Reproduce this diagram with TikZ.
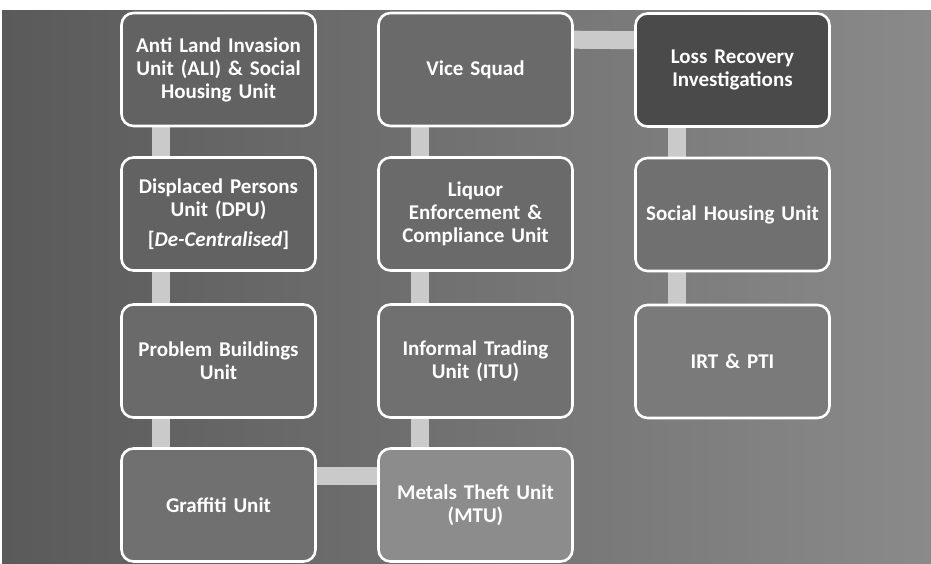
\documentclass[tikz,border=0pt]{standalone}
\usepackage{fontspec}
\setmainfont{Carlito}
\usetikzlibrary{calc}
\pgfdeclarelayer{bg}
\pgfdeclarelayer{links}
\pgfsetlayers{bg,links,main}
\definecolor{bgleft}{RGB}{90,90,90}
\definecolor{bgright}{RGB}{138,138,138}
\definecolor{linkgray}{RGB}{202,202,202}
\definecolor{boxA}{RGB}{98,98,98}
\definecolor{boxB}{RGB}{106,106,106}
\definecolor{boxC}{RGB}{112,112,112}
\definecolor{boxD}{RGB}{74,74,74}
\definecolor{boxE}{RGB}{122,122,122}
\definecolor{boxF}{RGB}{140,140,140}
\tikzset{
  unit/.style={draw=white, line width=2.6pt, rounded corners=12pt,
    minimum width=194pt, minimum height=113pt, text width=186pt,
    align=center, text=white, inner sep=0pt,
    font=\fontsize{21}{23}\selectfont\bfseries},
  link/.style={draw=linkgray, line width=18pt},
}
\begin{document}
\begin{tikzpicture}[x=1pt,y=-1pt]
\useasboundingbox (0,0) rectangle (931,563);
% column 1
\node[unit, fill=boxA] (ali) at (218.5,69.5) {Anti Land Invasion\\Unit (ALI) \& Social\\Housing Unit};
\node[unit, fill=boxA] (dpu) at (218.5,214) {Displaced Persons\\Unit (DPU)\\[7pt][\textit{De-Centralised}]};
\node[unit, fill=boxB] (pbu) at (218.5,361) {Problem Buildings\\Unit};
\node[unit, fill=boxC] (gra) at (218.5,505) {Graffiti Unit};
% column 2
\node[unit, fill=boxB] (vice) at (475.5,69.5) {Vice Squad};
\node[unit, fill=boxB] (liq) at (475.5,214) {Liquor\\Enforcement \&\\Compliance Unit};
\node[unit, fill=boxC] (itu) at (475.5,361) {Informal Trading\\Unit (ITU)};
\node[unit, fill=boxF] (mtu) at (475.5,505) {Metals Theft Unit\\(MTU)};
% column 3
\node[unit, fill=boxD] (loss) at (732.5,70) {Loss Recovery\\Investigations};
\node[unit, fill=boxC] (soc) at (732.5,214.5) {Social Housing Unit};
\node[unit, fill=boxE] (irt) at (732.5,361.5) {IRT \& PTI};

\begin{pgfonlayer}{bg}
  \fill[white] (0,0) rectangle (931,563);
  \shade[left color=bgleft, right color=bgright] (2,10) rectangle (931,563);
\end{pgfonlayer}
\begin{pgfonlayer}{links}
  \draw[link] ($(ali.south west)+(41,0)$) -- ($(dpu.north west)+(41,0)$);
  \draw[link] ($(dpu.south west)+(41,0)$) -- ($(pbu.north west)+(41,0)$);
  \draw[link] ($(pbu.south west)+(41,0)$) -- ($(gra.north west)+(41,0)$);
  \draw[link] ($(vice.south west)+(43,0)$) -- ($(liq.north west)+(43,0)$);
  \draw[link] ($(liq.south west)+(43,0)$) -- ($(itu.north west)+(43,0)$);
  \draw[link] ($(itu.south west)+(43,0)$) -- ($(mtu.north west)+(43,0)$);
  \draw[link] ($(loss.south west)+(43,0)$) -- ($(soc.north west)+(43,0)$);
  \draw[link] ($(soc.south west)+(43,0)$) -- ($(irt.north west)+(43,0)$);
  \draw[link] ($(vice.north east)+(0,28)$) -- ($(loss.north west)+(0,28)$);
  \draw[link] ($(gra.north east)+(0,29)$) -- ($(mtu.north west)+(0,29)$);
\end{pgfonlayer}
\end{tikzpicture}
\end{document}
